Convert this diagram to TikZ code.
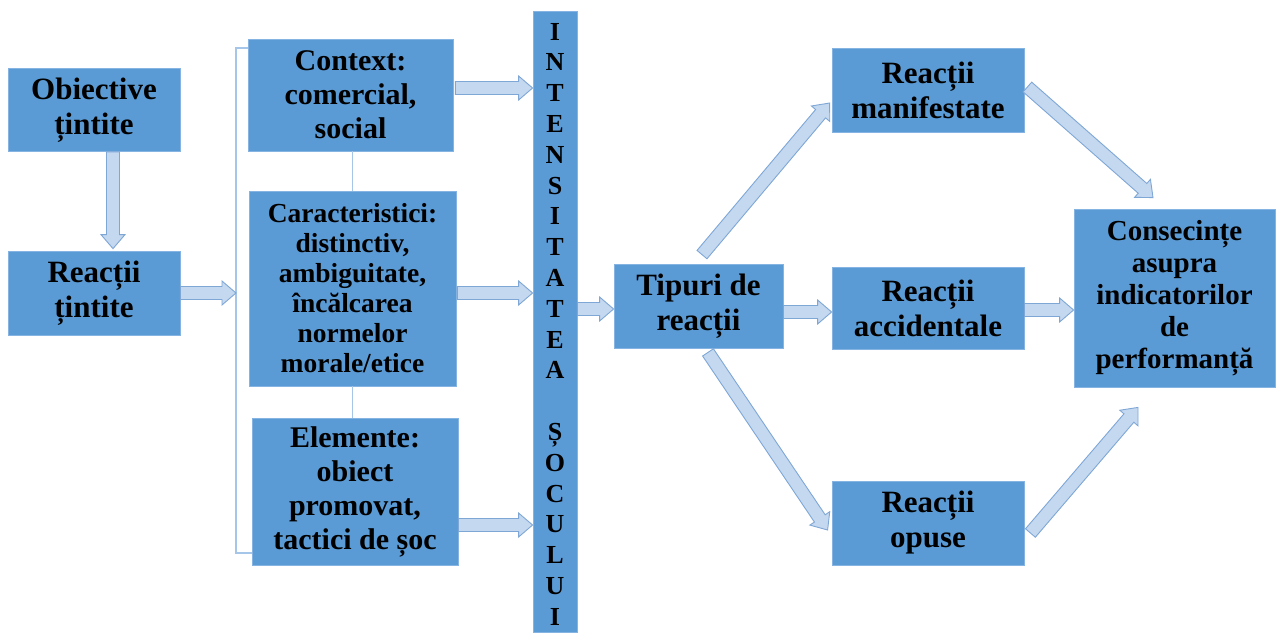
\documentclass[tikz,border=0pt]{standalone}
\usepackage{fontspec}
\setmainfont{Liberation Serif}
\usetikzlibrary{calc}
\definecolor{boxblue}{HTML}{5B9BD5}
\definecolor{boxedge}{HTML}{86B4E2}
\definecolor{arrfill}{HTML}{C4D8EF}
\definecolor{arredge}{HTML}{7FA7D6}
\definecolor{brkcol}{HTML}{A5C6E8}
\newcommand{\blockarr}[2]{%
  \path (#1) coordinate (ta) (#2) coordinate (hb);
  \path ($(hb)!14pt!(ta)$) coordinate (nk);
  \filldraw[blockarrow] ($(ta)!6.5pt!90:(hb)$) -- ($(nk)!6.5pt!-90:(ta)$) -- ($(nk)!12pt!-90:(ta)$) -- (hb)
    -- ($(nk)!12pt!90:(ta)$) -- ($(nk)!6.5pt!90:(ta)$) -- ($(ta)!6.5pt!-90:(hb)$) -- cycle;}
\tikzset{
  box/.style={fill=boxblue, draw=boxedge, line width=0.8pt, inner sep=0pt, align=center, text=black},
  bigtxt/.style={font=\fontsize{31}{35}\selectfont\bfseries},
  midtxt/.style={font=\fontsize{30}{34}\selectfont\bfseries},
  blockarrow/.style={fill=arrfill, draw=arredge, line width=0.9pt, line join=miter},
  brk/.style={draw=brkcol, line width=1.4pt},
  lettr/.style={font=\fontsize{26}{26}\selectfont\bfseries, anchor=base, inner sep=0pt}
}
\begin{document}
\begin{tikzpicture}[x=1pt,y=-1pt]
\useasboundingbox (0,0) rectangle (1276,632);
% boxes
\node[box,bigtxt,minimum width=172pt,minimum height=83pt] (obj) at (94,110) {Obiective\\țintite};
\node[box,bigtxt,minimum width=172pt,minimum height=84pt] (rt) at (94,293) {Reacții\\țintite};
\node[box,midtxt,minimum width=205pt,minimum height=112pt] (ctx) at (350.5,95) {Context:\\comercial,\\social};
\node[box,font=\fontsize{27.5}{30}\selectfont\bfseries,minimum width=207pt,minimum height=195pt] (car) at (352.5,288.5) {Caracteristici:\\distinctiv,\\ambiguitate,\\încălcarea\\normelor\\morale/etice};
\node[box,midtxt,minimum width=206pt,minimum height=147pt] (ele) at (355,491.5) {Elemente:\\obiect\\promovat,\\tactici de șoc};
\node[box,minimum width=44pt,minimum height=621pt] (col) at (555,321.5) {};
\node[box,bigtxt,minimum width=169pt,minimum height=84pt] (tip) at (698.5,306) {Tipuri de\\reacții};
\node[box,bigtxt,minimum width=192pt,minimum height=84pt] (man) at (928,90) {Reacții\\manifestate};
\node[box,bigtxt,minimum width=192pt,minimum height=82pt] (acc) at (928,308) {Reacții\\accidentale};
\node[box,bigtxt,minimum width=192pt,minimum height=84pt] (opu) at (928,523) {Reacții\\opuse};
\node[box,font=\fontsize{29}{32}\selectfont\bfseries,minimum width=201pt,minimum height=178pt] (con) at (1174.5,298) {Consecințe\\asupra\\indicatorilor\\de\\performanță};
% column letters
\foreach \ch [count=\i from 0] in {I,N,T,E,N,S,I,T,A,T,E,A}
  \node[lettr] (la\i) at (555,{40+\i*30.8}) {\ch};
\foreach \ch [count=\i from 13] in {Ș,O,C,U,L,U,I}
  \node[lettr] (lb\i) at (555,{40+\i*30.8}) {\ch};
% bracket
\coordinate (bt) at (236,48);
\coordinate (bb) at (236,553);
\coordinate (brkm) at (236,293);
\draw[brk] (ctx.west |- bt) -- (bt) -- (bb) -- (ele.west |- bb);
\draw[brk] (car.north) -- (car.north |- ctx.south);
\draw[brk] (car.south) -- (car.south |- ele.north);
% arrows
\coordinate (a1s) at ($(obj.south)+(19,0)$);
\coordinate (a1e) at ($(rt.north)+(19,-2)$);
\blockarr{a1s}{a1e}
\blockarr{rt.east}{brkm}
\coordinate (c1) at ($(ctx.east)+(2,-7)$);
\blockarr{c1}{c1 -| col.west}
\coordinate (c2) at ($(car.east)+(1,4.5)$);
\blockarr{c2}{c2 -| col.west}
\coordinate (c3) at ($(ele.east)+(0,33.5)$);
\blockarr{c3}{c3 -| col.west}
\coordinate (c4) at ($(tip.west)+(0,3)$);
\blockarr{col.east |- c4}{c4}
\coordinate (t1s) at ($(tip.north)+(3.5,-9)$);
\coordinate (t1e) at ($(man.west)+(-2,13)$);
\blockarr{t1s}{t1e}
\coordinate (t2) at ($(tip.east)+(0,6)$);
\blockarr{t2}{t2 -| acc.west}
\coordinate (t3s) at ($(tip.south)+(9.5,4)$);
\coordinate (t3e) at ($(opu.west)+(-4,7)$);
\blockarr{t3s}{t3e}
\coordinate (r1s) at ($(man.east)+(3,-3)$);
\coordinate (r1e) at ($(con.north)+(-21.5,-11)$);
\blockarr{r1s}{r1e}
\coordinate (r2) at ($(acc.east)+(0,2)$);
\blockarr{r2}{r2 -| con.west}
\coordinate (r3s) at ($(opu.east)+(6,10)$);
\coordinate (r3e) at ($(con.south)+(-36.5,20)$);
\blockarr{r3s}{r3e}
\end{tikzpicture}
\end{document}
